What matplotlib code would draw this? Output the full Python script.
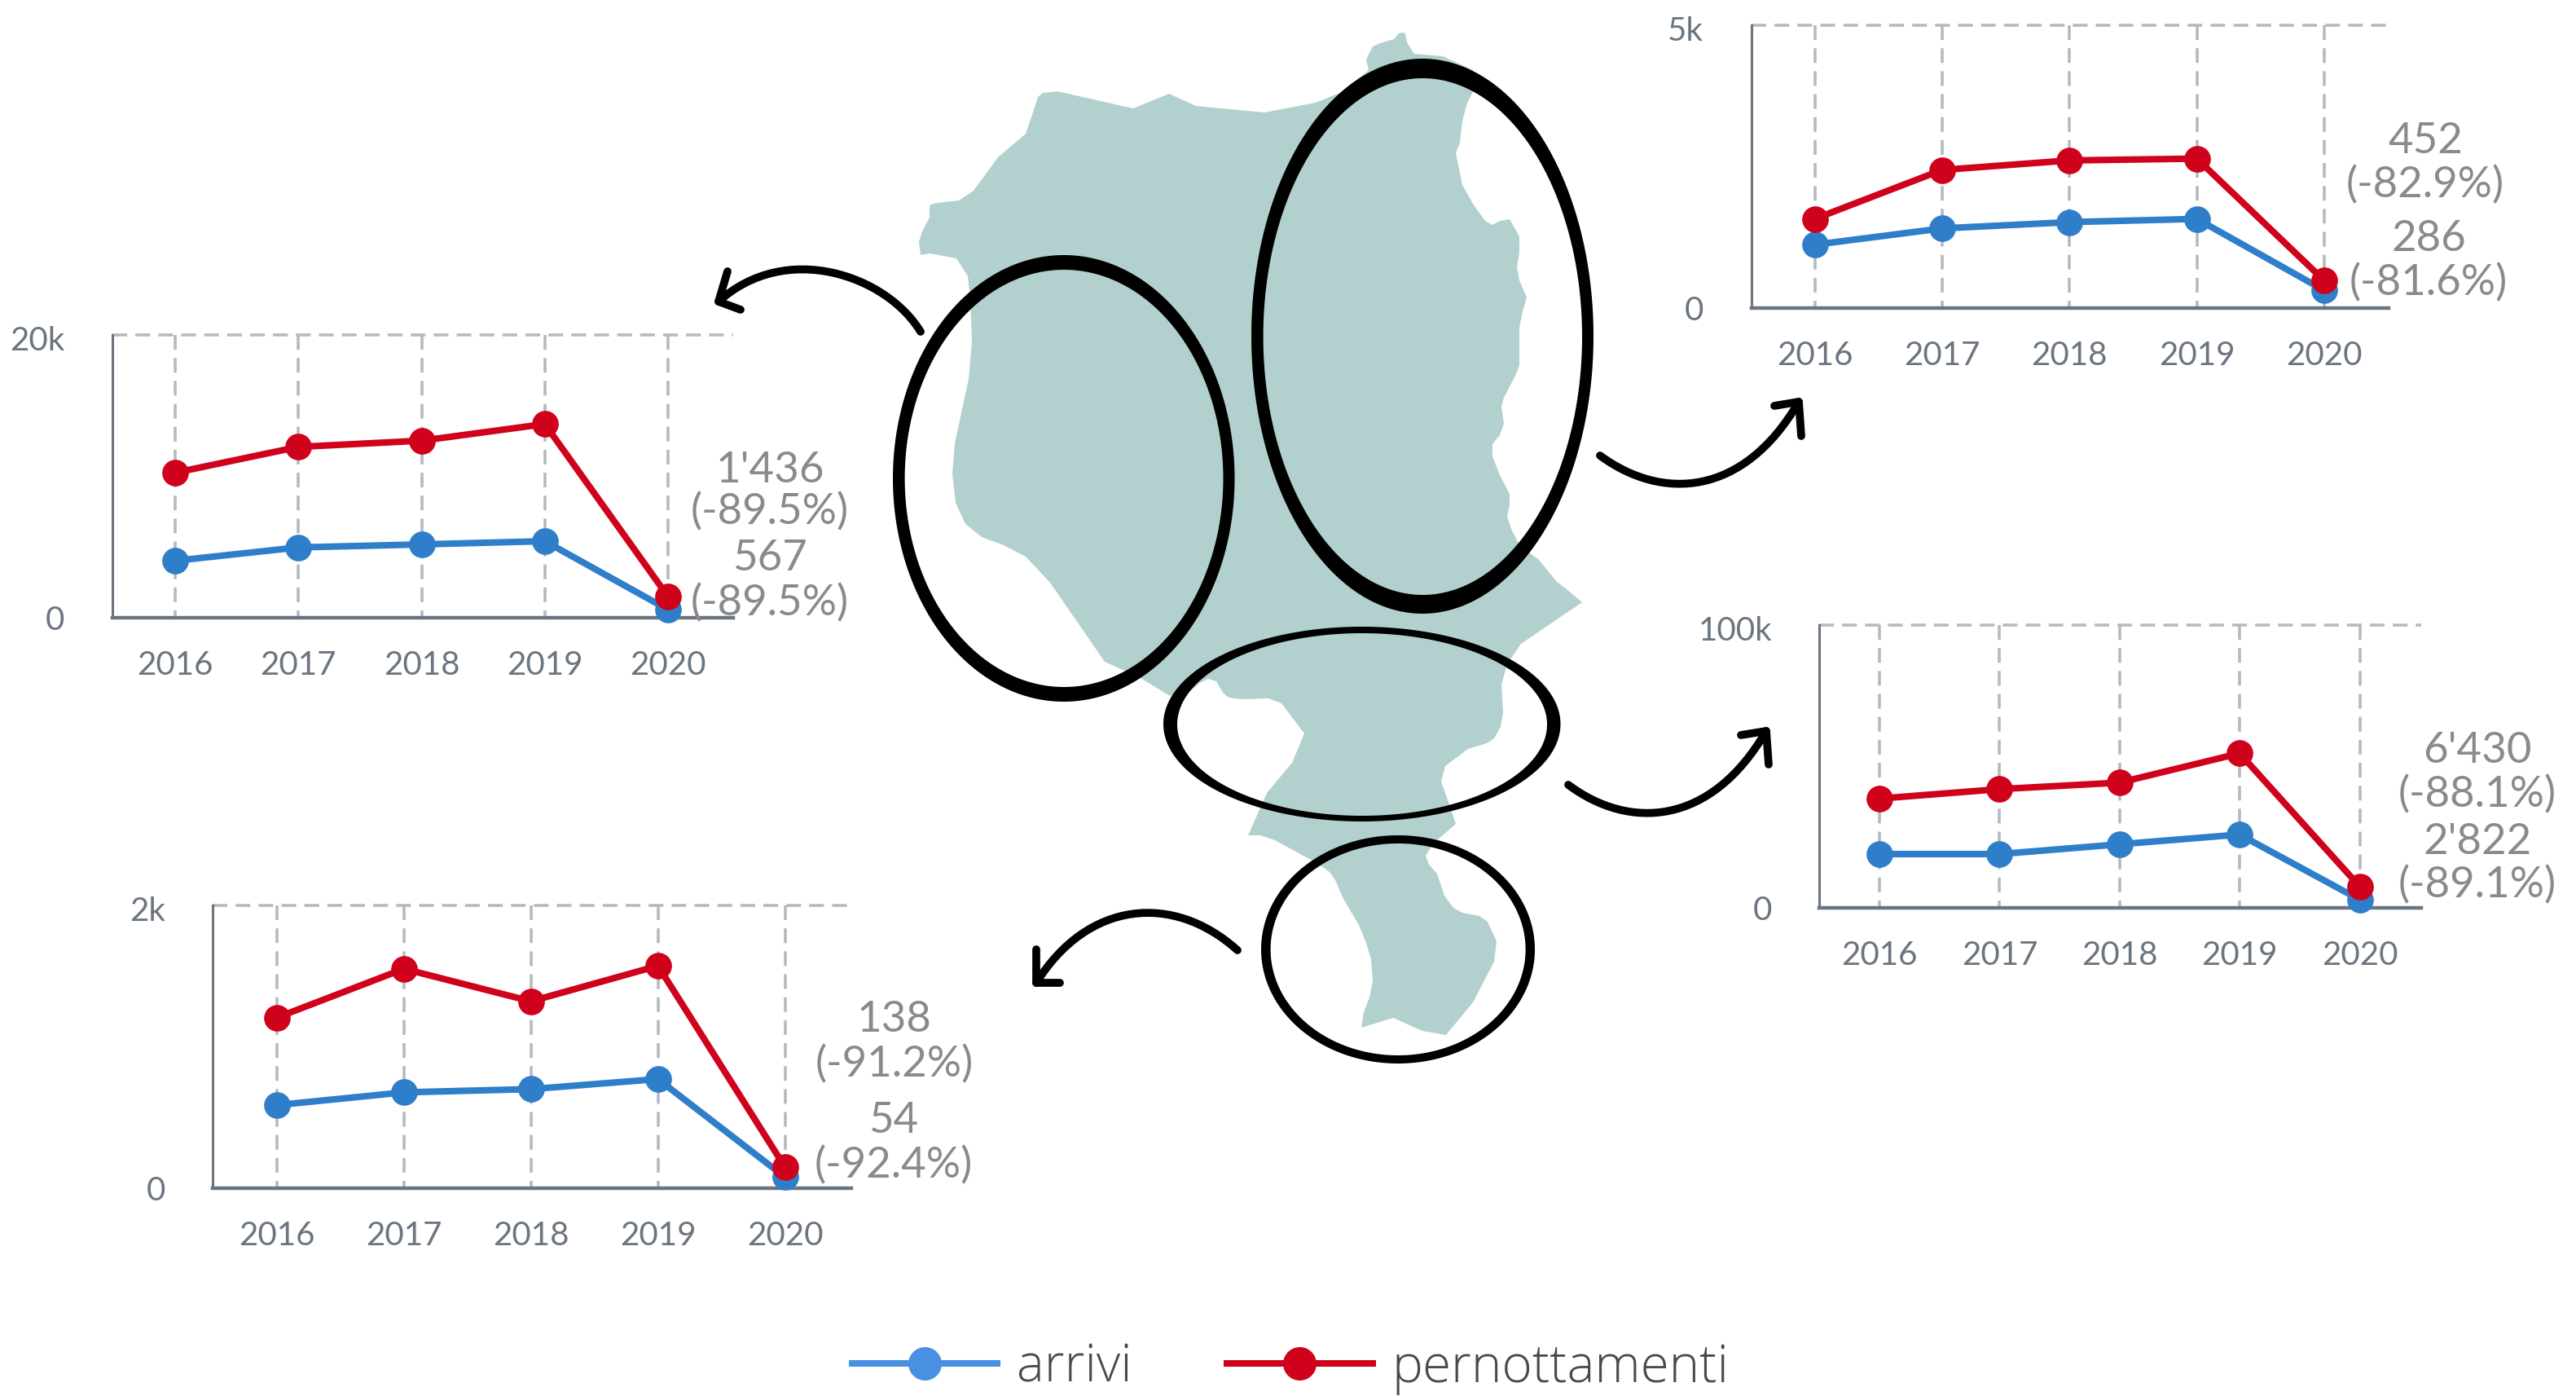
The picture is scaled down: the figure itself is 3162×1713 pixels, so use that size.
import numpy as np
import matplotlib
matplotlib.use('Agg')
import matplotlib.pyplot as plt
from matplotlib.lines import Line2D
from matplotlib.patches import PathPatch, Polygon
from matplotlib.path import Path
from matplotlib.transforms import ScaledTranslation

plt.rcParams['font.family'] = ['Lato', 'DejaVu Sans']

years = [2016, 2017, 2018, 2019, 2020]

# values
arrivi_ovest = [4015, 4956, 5168, 5398, 557]
pern_ovest = [10240, 12065, 12506, 13680, 1480]
arrivi_est = [1119, 1407, 1518, 1575, 312]
pern_est = [1575, 2440, 2608, 2640, 485]
arrivi_centro = [19000, 19000, 22460, 25900, 2880]
pern_centro = [38600, 41950, 44250, 54600, 7540]
arrivi_sud = [586, 676, 699, 770, 77]
pern_sud = [1205, 1550, 1320, 1571, 148]

y_max = [20000, 5000, 100000, 2000]
y_max_labels = ['20k', '5k', '100k', '2k']
value_labels = [
    ["1'436", '(-89.5%)', '567', '(-89.5%)'],
    ['452', '(-82.9%)', '286', '(-81.6%)'],
    ["6'430", '(-88.1%)', "2'822", '(-89.1%)'],
    ['138', '(-91.2%)', '54', '(-92.4%)'],
]

# map outline, in picture pixels
map_outline = [
    (1711, 48), (1717, 41), (1721, 40), (1725, 41), (1727, 52), (1736, 66), (1771, 69), (1808, 86),
    (1808, 112), (1800, 129), (1795, 149), (1792, 175), (1787, 188), (1791, 207), (1795, 227), (1808, 250),
    (1823, 271), (1832, 276), (1841, 271), (1853, 269), (1865, 290), (1865, 310), (1862, 328), (1865, 344),
    (1874, 365), (1869, 382), (1865, 402), (1865, 448), (1861, 459), (1846, 488), (1843, 499), (1846, 520),
    (1841, 534), (1832, 545), (1832, 560), (1841, 583), (1853, 606), (1853, 620), (1850, 634), (1855, 649),
    (1865, 669), (1889, 687), (1911, 714), (1923, 723), (1942, 739), (1867, 790), (1850, 815), (1843, 840),
    (1845, 874), (1842, 892), (1834, 906), (1825, 912), (1802, 919), (1774, 940), (1769, 959), (1779, 987),
    (1787, 1011), (1765, 1030), (1756, 1040), (1750, 1050), (1754, 1061), (1764, 1072), (1773, 1099),
    (1784, 1114), (1795, 1120), (1816, 1124), (1826, 1131), (1837, 1155), (1834, 1180), (1808, 1230),
    (1775, 1270), (1746, 1265), (1710, 1249), (1671, 1261), (1674, 1242), (1681, 1224), (1685, 1204),
    (1683, 1177), (1677, 1157), (1668, 1135), (1649, 1103), (1639, 1080), (1632, 1070), (1618, 1060),
    (1565, 1031), (1547, 1025), (1532, 1025), (1537, 1014), (1555, 973), (1586, 936), (1601, 900),
    (1573, 863), (1557, 857), (1524, 858), (1508, 856), (1501, 850), (1493, 836), (1483, 833), (1473, 838),
    (1461, 848), (1436, 854), (1400, 832), (1356, 812), (1289, 715), (1259, 683), (1232, 669), (1205, 659),
    (1185, 643), (1173, 617), (1169, 581), (1172, 544), (1189, 465), (1193, 419), (1191, 367), (1188, 339),
    (1174, 317), (1141, 311), (1130, 313), (1128, 297), (1132, 284), (1141, 267), (1141, 255), (1142, 251),
    (1150, 249), (1177, 246), (1195, 234), (1225, 193), (1259, 164), (1267, 141), (1274, 119), (1280, 114),
    (1298, 112), (1391, 133), (1435, 115), (1468, 130), (1552, 138), (1615, 126), (1647, 113), (1680, 86),
    (1677, 73), (1685, 57), (1694, 53),
]

colore_arrivi = '#2f7ec9'
colore_arrivi_legenda = '#4a90e2'
colore_pern = '#d0021b'
colore_mappa = '#b2d1ce'
colore_griglia = '#b5babf'
colore_assi = '#6b7580'
colore_valori = '#8a8a8a'

W, H = 3162, 1713
fig = plt.figure(figsize=(W / 100, H / 100), dpi=100, facecolor='white')


def small_chart(left, right, top, bottom, x0, x1, arrivi, pern, ymax, ymax_label):
    ax = fig.add_axes([left / W, 1 - bottom / H, (right - left) / W, (bottom - top) / H])
    step = (x1 - x0) / (years[-1] - years[0])
    xlo = years[0] - (x0 - left) / step
    xhi = years[-1] + (right - x1) / step
    ax.set_xlim(xlo, xhi)
    ax.set_ylim(0, ymax)
    for side in ['top', 'right']:
        ax.spines[side].set_visible(False)
    ax.spines['left'].set_linewidth(2.2)
    ax.spines['left'].set_color(colore_assi)
    ax.spines['bottom'].set_linewidth(3.2)
    ax.spines['bottom'].set_color(colore_assi)
    dash = (0, (5, 2.8))
    ax.vlines(years, ymax, 0, color=colore_griglia, lw=2.6, linestyles=[dash], zorder=1, clip_on=False)
    ax.hlines(ymax, xlo, xhi, color=colore_griglia, lw=2.6, linestyles=[dash], zorder=1, clip_on=False)
    ax.plot(years, arrivi, color=colore_arrivi, lw=5.8, marker='o', ms=22.5, clip_on=False, zorder=3)
    ax.plot(years, pern, color=colore_pern, lw=5.8, marker='o', ms=22.5, clip_on=False, zorder=4)
    ax.set_xticks(years)
    ax.set_xticklabels([str(y) for y in years])
    ax.set_yticks([0, ymax])
    ax.set_yticklabels(['0', ymax_label])
    ax.tick_params(axis='x', length=0, pad=29, labelsize=29, labelcolor=colore_assi)
    ax.tick_params(axis='y', length=0, pad=42, labelsize=29, labelcolor=colore_assi)
    top_label = ax.get_yticklabels()[1]
    top_label.set_transform(top_label.get_transform() + ScaledTranslation(0, -4 / 100, fig.dpi_scale_trans))
    return ax


small_chart(137.5, 900, 410.7, 757.7, 215, 820, arrivi_ovest, pern_ovest, y_max[0], y_max_labels[0])
small_chart(2149.5, 2932, 30.7, 378, 2227.5, 2853, arrivi_est, pern_est, y_max[1], y_max_labels[1])
small_chart(2233.4, 2971.6, 766.7, 1114, 2307, 2896.5, arrivi_centro, pern_centro, y_max[2], y_max_labels[2])
small_chart(261.4, 1045, 1110.7, 1457.7, 340, 963.5, arrivi_sud, pern_sud, y_max[3], y_max_labels[3])

# overlay in picture pixels for the map, circles, arrows and the value labels
ov = fig.add_axes([0, 0, 1, 1], zorder=10)
ov.set_xlim(0, W)
ov.set_ylim(H, 0)
ov.axis('off')
ov.patch.set_alpha(0)

ov.add_patch(Polygon(np.array(map_outline), closed=True, fc=colore_mappa, ec='none', zorder=1))


def ellipse_xy(box):
    # box is left, right, top, bottom
    l, r, t, b = box
    th = np.linspace(0, 2 * np.pi, 361)
    return np.column_stack([(l + r) / 2 + (r - l) / 2 * np.cos(th), (t + b) / 2 + (b - t) / 2 * np.sin(th)])


def ring(outer, inner):
    a = ellipse_xy(outer)
    b = ellipse_xy(inner)[::-1]
    verts = np.vstack([a, b])
    codes = [Path.LINETO] * len(verts)
    codes[0] = Path.MOVETO
    codes[len(a)] = Path.MOVETO
    ov.add_patch(PathPatch(Path(verts, codes), fc='black', ec='none', zorder=2))


ring((1096, 1515.5, 313, 861), (1110.6, 1501.5, 331, 843))
ring((1536, 1956, 72, 753), (1550.6, 1942, 96, 730))
ring((1428, 1915.5, 769, 1008), (1445, 1899, 777, 1001))
ring((1548, 1884, 1025, 1305), (1559.6, 1872.6, 1035, 1295))


def arrow(p0, c1, c2, p1, barb1, barb2):
    curve = Path([p0, c1, c2, p1], [Path.MOVETO, Path.CURVE4, Path.CURVE4, Path.CURVE4])
    ov.add_patch(PathPatch(curve, fc='none', ec='black', lw=7, capstyle='round', zorder=3))
    ov.plot([barb1[0], p1[0], barb2[0]], [barb1[1], p1[1], barb2[1]], color='black', lw=7,
            solid_capstyle='round', solid_joinstyle='round', zorder=3)


arrow((1130, 407), (1088, 338), (965, 295), (882, 370), (893, 333), (909, 380))
arrow((1964, 559), (2040, 615), (2140, 610), (2208, 493), (2178, 498), (2211, 535))
arrow((1925, 963), (2000, 1019), (2100, 1014), (2168, 897), (2137, 902), (2171, 938))
arrow((1519, 1166), (1440, 1095), (1335, 1105), (1272, 1206), (1272, 1165), (1301, 1206))

label_x = [[945, 945, 945, 945], [2977, 2977, 2981, 2981], [3041, 3041, 3041, 3041], [1098, 1098, 1097, 1097]]
label_y = [[577, 628, 685, 740], [174, 227, 293, 347], [921, 975, 1033, 1086], [1252, 1306, 1376, 1430]]
for lx, ly, labs in zip(label_x, label_y, value_labels):
    for x, y, s in zip(lx, ly, labs):
        ov.text(x, y, s, ha='center', va='center', fontsize=38, color=colore_valori, zorder=5)

handles = [
    Line2D([], [], color=colore_arrivi_legenda, lw=5.8, marker='o', ms=28.5),
    Line2D([], [], color=colore_pern, lw=5.8, marker='o', ms=28.5),
]
fig.legend(handles, ['arrivi', 'pernottamenti'], loc='center', bbox_to_anchor=(1584 / W, 1 - 1679 / H),
           ncol=2, frameon=False, handlelength=2.79, handletextpad=0.375, columnspacing=1.83,
           labelcolor='#4a4a4a', prop={'family': 'Open Sans', 'size': 46, 'weight': 300})

fig.savefig('out.png', dpi=100)
